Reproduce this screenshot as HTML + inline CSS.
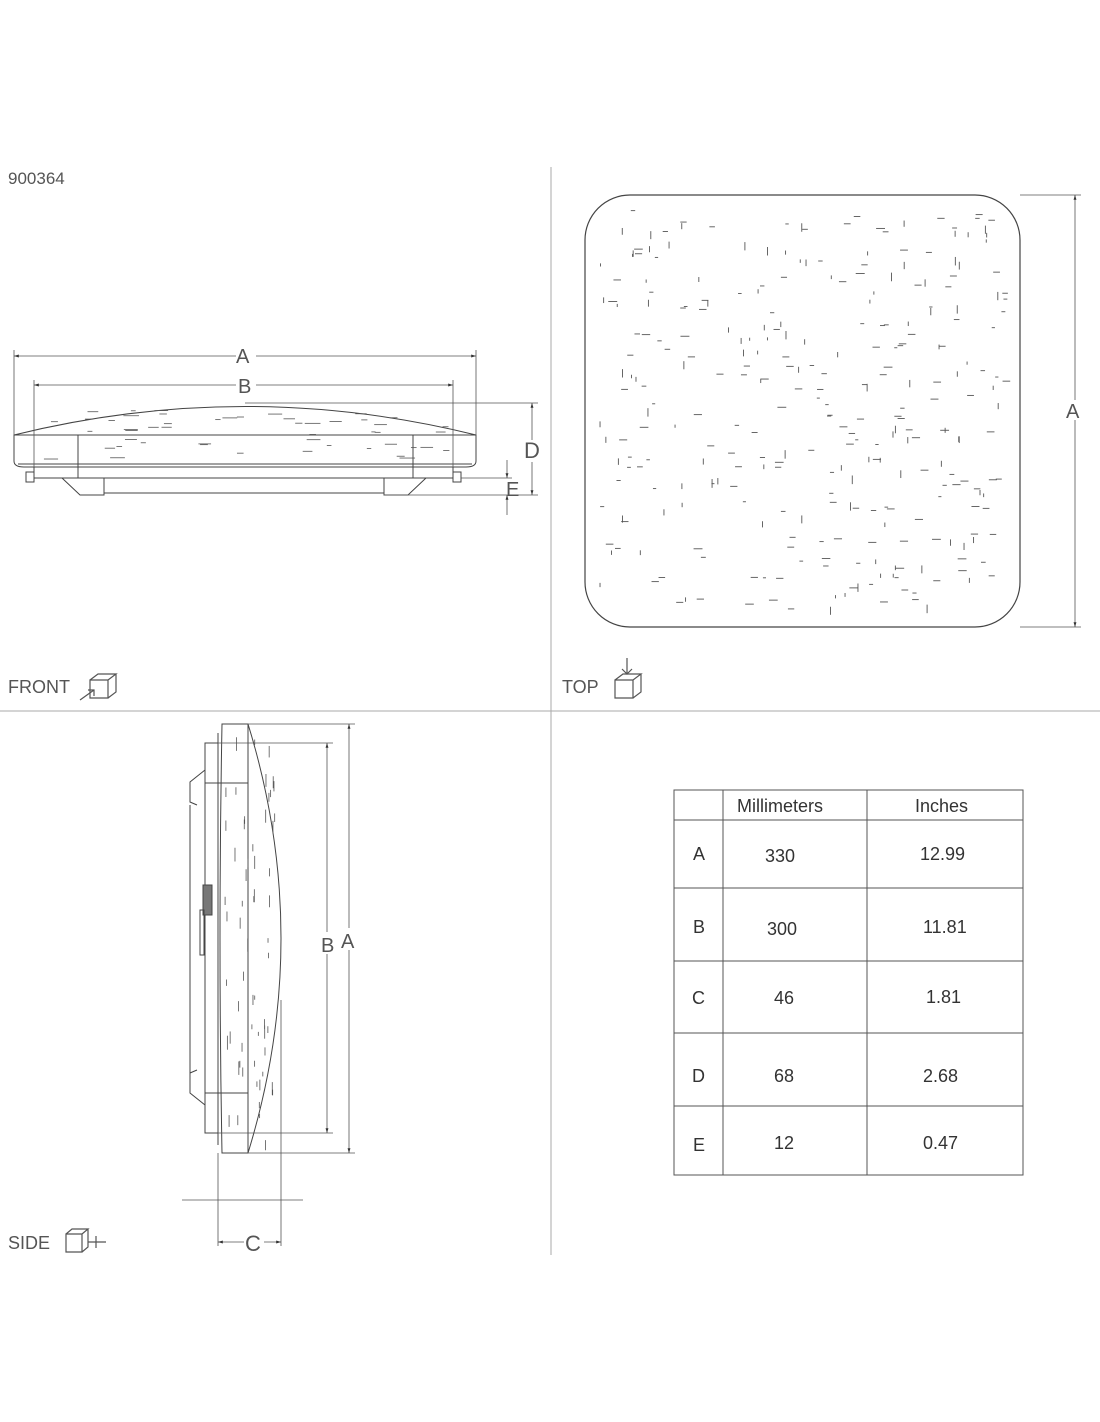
<!DOCTYPE html>
<html><head><meta charset="utf-8"><style>
html,body{margin:0;padding:0;background:#fff}
svg{display:block}
text{font-family:"Liberation Sans",sans-serif;fill:#555}
</style></head><body>
<svg id="s" width="1100" height="1422" viewBox="0 0 1100 1422" xmlns="http://www.w3.org/2000/svg">
<defs><marker id="ar" viewBox="0 0 10 10" refX="10" refY="5" markerWidth="9" markerHeight="6" orient="auto-start-reverse"><path d="M0,2L10,5L0,8z" fill="#333"/></marker></defs>
<g stroke="#aaa" stroke-width="1">
<line x1="551" y1="167" x2="551" y2="1255"/>
<line x1="0" y1="711" x2="1100" y2="711"/>
</g>
<text x="8" y="184" font-size="17">900364</text>
<text x="8" y="693" font-size="18">FRONT</text>
<text x="562" y="693" font-size="18">TOP</text>
<text x="8" y="1249" font-size="18">SIDE</text>
<!-- icons -->
<g fill="none" stroke="#555" stroke-width="1.2">
<path d="M90,680h18v18h-18z M90,680l8,-6h18l-8,6 M108,698l8,-6v-18"/><path d="M80,700l14,-10 m-6,0h6v6"/>
<path d="M615,680h18v18h-18z M615,680l8,-6h18l-8,6 M633,698l8,-6v-18"/><path d="M627,658v16 m-5,-5l5,5l5,-5"/>
<path d="M66,1234h16v18h-16z M66,1234l6,-5h16l-6,5 M82,1252l6,-5v-18"/><path d="M88,1242h18 m-10,-6v12"/>
</g>
<!-- FRONT -->
<g fill="none" stroke="#444" stroke-width="1">
<path d="M14,435 Q245,378 476,435"/>
<path d="M14,435h462v26q0,6 -10,6h-442q-10,0 -10,-6z"/>
<line x1="78" y1="435" x2="78" y2="478"/><line x1="413" y1="435" x2="413" y2="478"/>
<line x1="18" y1="464" x2="472" y2="464"/>
<rect x="34" y="467" width="419" height="11"/>
<rect x="26" y="472" width="8" height="10"/><rect x="453" y="472" width="8" height="10"/>
<path d="M62,478l18,17h24v-17 M426,478l-18,17h-24v-17"/><line x1="104" y1="493" x2="384" y2="493"/>
</g>
<g stroke="#555" stroke-width="0.8" fill="none">
<line x1="14" y1="356" x2="236" y2="356" marker-start="url(#ar)"/><line x1="256" y1="356" x2="476" y2="356" marker-end="url(#ar)"/>
<line x1="14" y1="350" x2="14" y2="435"/><line x1="476" y1="350" x2="476" y2="435"/>
<line x1="34" y1="385" x2="236" y2="385" marker-start="url(#ar)"/><line x1="256" y1="385" x2="453" y2="385" marker-end="url(#ar)"/>
<line x1="34" y1="380" x2="34" y2="467"/><line x1="453" y1="380" x2="453" y2="467"/>
<line x1="245" y1="403" x2="538" y2="403"/><line x1="384" y1="495" x2="538" y2="495"/><line x1="461" y1="478" x2="512" y2="478"/>
<line x1="532" y1="403" x2="532" y2="440" marker-start="url(#ar)"/><line x1="532" y1="462" x2="532" y2="495" marker-end="url(#ar)"/>
<line x1="507" y1="460" x2="507" y2="478" marker-end="url(#ar)"/><line x1="507" y1="515" x2="507" y2="495" marker-end="url(#ar)"/>
</g>
<text x="236" y="363" font-size="20">A</text><text x="238" y="393" font-size="20">B</text>
<text x="524" y="458" font-size="22">D</text><text x="506" y="496" font-size="20">E</text>
<!-- TOP -->
<rect x="585" y="195" width="435" height="432" rx="45" fill="none" stroke="#444" stroke-width="1.2"/>
<g stroke="#555" stroke-width="0.8" fill="none">
<line x1="1020" y1="195" x2="1081" y2="195"/><line x1="1020" y1="627" x2="1081" y2="627"/>
<line x1="1075" y1="195" x2="1075" y2="400" marker-start="url(#ar)"/><line x1="1075" y1="420" x2="1075" y2="627" marker-end="url(#ar)"/>
</g>
<text x="1066" y="418" font-size="20">A</text>
<g id="sp" stroke="#555" stroke-width="0.9"></g>
<!-- SIDE -->
<g fill="none" stroke="#444" stroke-width="1">
<path d="M222,724h26q66,214 0,429h-26q-4,-214 0,-429z"/>
<line x1="248" y1="724" x2="248" y2="1153"/>
<line x1="218" y1="733" x2="218" y2="1145"/>
<rect x="205" y="743" width="13" height="390"/>
<line x1="205" y1="783" x2="248" y2="783"/><line x1="205" y1="1093" x2="248" y2="1093"/>
<path d="M205,770l-15,12v20l7,3 M205,1105l-15,-12v-20l7,-3"/>
<line x1="190" y1="805" x2="190" y2="1073"/>
<rect x="203" y="885" width="9" height="30" fill="#777"/>
<rect x="200" y="910" width="4" height="45"/>
</g>
<g stroke="#555" stroke-width="0.8" fill="none">
<line x1="248" y1="724" x2="355" y2="724"/><line x1="248" y1="1153" x2="355" y2="1153"/>
<line x1="218" y1="743" x2="333" y2="743"/><line x1="218" y1="1133" x2="333" y2="1133"/>
<line x1="349" y1="724" x2="349" y2="928" marker-start="url(#ar)"/><line x1="349" y1="950" x2="349" y2="1153" marker-end="url(#ar)"/>
<line x1="327" y1="743" x2="327" y2="932" marker-start="url(#ar)"/><line x1="327" y1="954" x2="327" y2="1133" marker-end="url(#ar)"/>
<line x1="182" y1="1200" x2="303" y2="1200"/>
<line x1="218" y1="1153" x2="218" y2="1246"/><line x1="281" y1="1000" x2="281" y2="1246"/>
<line x1="218" y1="1242" x2="244" y2="1242" marker-start="url(#ar)"/><line x1="264" y1="1242" x2="281" y2="1242" marker-end="url(#ar)"/>
</g>
<text x="321" y="952" font-size="20">B</text><text x="341" y="948" font-size="20">A</text>
<text x="245" y="1251" font-size="22">C</text>
<g id="sp2" stroke="#555" stroke-width="0.8"></g>
<!-- TABLE -->
<g fill="none" stroke="#555" stroke-width="1">
<rect x="674" y="790" width="349" height="385"/>
<line x1="723" y1="790" x2="723" y2="1175"/><line x1="867" y1="790" x2="867" y2="1175"/>
<line x1="674" y1="820" x2="1023" y2="820"/><line x1="674" y1="888" x2="1023" y2="888"/>
<line x1="674" y1="961" x2="1023" y2="961"/><line x1="674" y1="1033" x2="1023" y2="1033"/>
<line x1="674" y1="1106" x2="1023" y2="1106"/>
</g>
<g font-size="18" fill="#333">
<text x="737" y="812" style="fill:#333">Millimeters</text><text x="915" y="812" style="fill:#333">Inches</text>
<text x="693" y="860" style="fill:#333">A</text><text x="765" y="862" style="fill:#333">330</text><text x="920" y="860" style="fill:#333">12.99</text>
<text x="693" y="933" style="fill:#333">B</text><text x="767" y="935" style="fill:#333">300</text><text x="923" y="933" style="fill:#333">11.81</text>
<text x="692" y="1004" style="fill:#333">C</text><text x="774" y="1004" style="fill:#333">46</text><text x="926" y="1003" style="fill:#333">1.81</text>
<text x="692" y="1082" style="fill:#333">D</text><text x="774" y="1082" style="fill:#333">68</text><text x="923" y="1082" style="fill:#333">2.68</text>
<text x="693" y="1151" style="fill:#333">E</text><text x="774" y="1149" style="fill:#333">12</text><text x="923" y="1149" style="fill:#333">0.47</text>
</g>
</svg>
<script>
var s=7;function r(){s=(s*16807)%2147483647;return s/2147483647;}
var g=document.getElementById('sp'),h='';
for(var i=0;i<300;i++){var x=600+r()*405,y=210+r()*405;var v=r()<0.4;var l=3+r()*6;
h+=v?'<line x1="'+x+'" y1="'+y+'" x2="'+x+'" y2="'+(y+l)+'"/>':'<line x1="'+x+'" y1="'+y+'" x2="'+(x+l)+'" y2="'+y+'"/>';}
g.innerHTML=h;h='';
for(var i=0;i<60;i++){var x=225+r()*50,y=735+r()*410,l=4+r()*10;h+='<line x1="'+x+'" y1="'+y+'" x2="'+x+'" y2="'+(y+l)+'"/>';}
for(var i=0;i<50;i++){var x=40+r()*410,y=410+r()*50,l=4+r()*12;h+='<line x1="'+x+'" y1="'+y+'" x2="'+(x+l)+'" y2="'+y+'"/>';}
document.getElementById('sp2').innerHTML=h;
</script>
</body></html>
